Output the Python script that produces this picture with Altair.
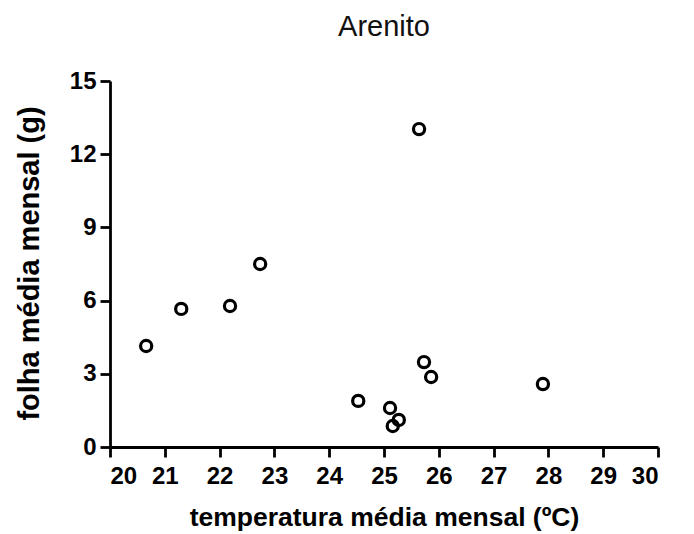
import altair as alt
import pandas as pd

temperatura = [20.66, 21.30, 22.19, 22.74, 25.64, 24.53, 25.11, 25.27, 25.16, 25.73, 25.86, 27.90]
folha = [4.14, 5.66, 5.78, 7.50, 13.03, 1.89, 1.60, 1.11, 0.86, 3.48, 2.87, 2.58]

df = pd.DataFrame({"temperatura": temperatura, "folha": folha})

FONT = "Liberation Sans"

chart = alt.Chart(df).mark_point(
    shape="circle", filled=False, stroke="black", strokeWidth=3.2, size=125, opacity=1
).encode(
    x=alt.X("temperatura:Q", scale=alt.Scale(domain=[20, 30], nice=False, zero=False),
            axis=alt.Axis(title="temperatura média mensal (ºC)", values=list(range(20, 31)),
                          titleX=274, titleY=78, titleAlign="center", titleBaseline="alphabetic",
                          titleFontSize=26.5, labelPadding=7)),
    y=alt.Y("folha:Q", scale=alt.Scale(domain=[0, 15], nice=False),
            axis=alt.Axis(title="folha média mensal (g)", values=[0, 3, 6, 9, 12, 15],
                          titleX=-81, titleY=182, titleAngle=-90, titleAlign="center",
                          titleBaseline="middle", titleFontSize=29, labelPadding=4)),
).properties(
    width=548, height=366,
    title=alt.TitleParams("Arenito", fontSize=29, font=FONT, fontWeight="normal", color="#111",
                          anchor="middle", offset=27),
    autosize=alt.AutoSizeParams(type="none"),
    padding={"left": 110, "top": 81, "right": 36, "bottom": 87},
).configure_axis(
    domainColor="black", domainWidth=2.8, tickColor="black", tickWidth=2.8, tickSize=10,
    grid=False, labelFont=FONT, labelFontSize=24, labelFontWeight="bold", labelColor="black",
    titleFont=FONT, titleFontWeight="bold", titleColor="black",
).configure_view(stroke=None)

chart.save("out.html", embed_options={"renderer": "svg", "actions": False})
